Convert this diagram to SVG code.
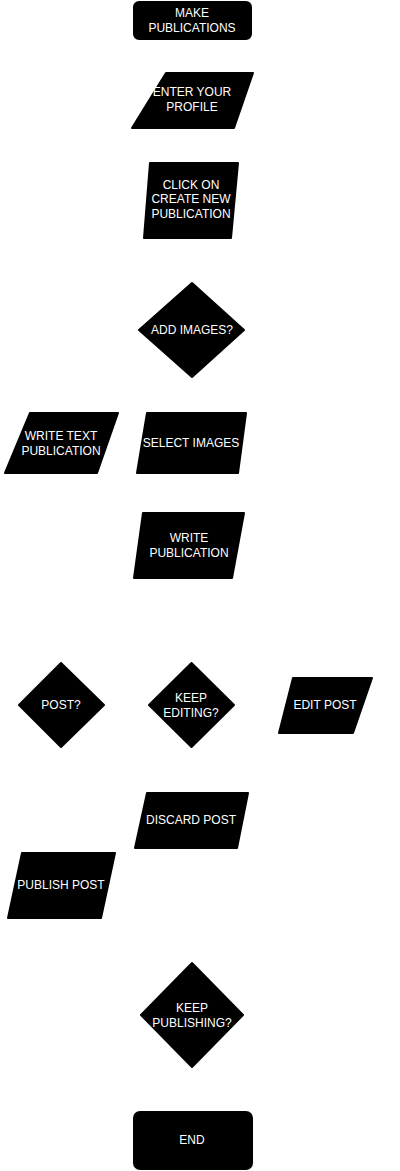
<svg xmlns="http://www.w3.org/2000/svg" width="400" height="1171" viewBox="0 0 400 1171">
<style>
.s{fill:#000;stroke:#000;stroke-width:2;stroke-linejoin:round}
.t{fill:#fff;font-family:"Liberation Sans",Arial,sans-serif;font-size:12px;text-anchor:middle}
</style>
<rect width="400" height="1171" fill="#fff"/>
<g id="connectors"></g>
<g id="make"><rect class="s" x="134" y="2" width="117" height="37" rx="5"/><text class="t" x="192" y="17">MAKE</text><text class="t" x="192" y="32">PUBLICATIONS</text></g>
<g id="profile"><polygon class="s" points="166,73 253,73 234,128 132,128"/><text class="t" x="192" y="96">ENTER YOUR</text><text class="t" x="192" y="111">PROFILE</text></g>
<g id="click"><polygon class="s" points="150,163 238,163 231,238 144,238"/><text class="t" x="191" y="189">CLICK ON</text><text class="t" x="191" y="203">CREATE NEW</text><text class="t" x="191" y="218">PUBLICATION</text></g>
<g id="addimages"><polygon class="s" points="192,283 244,330 192,377 139,330"/><text class="t" x="192" y="334">ADD IMAGES?</text></g>
<g id="writetext"><polygon class="s" points="30,413 118,413 97,473 5,473"/><text class="t" x="61" y="440">WRITE TEXT</text><text class="t" x="61" y="455">PUBLICATION</text></g>
<g id="select"><polygon class="s" points="147,413 246,413 238,473 137,473"/><text class="t" x="191" y="447">SELECT IMAGES</text></g>
<g id="write"><polygon class="s" points="143,513 244,513 232,578 134,578"/><text class="t" x="189" y="542">WRITE</text><text class="t" x="189" y="557">PUBLICATION</text></g>
<g id="post"><polygon class="s" points="61,663 104,705 61,747 19,705"/><text class="t" x="61" y="709">POST?</text></g>
<g id="keepediting"><polygon class="s" points="191.5,663 234,705 191.5,747 149,705"/><text class="t" x="191" y="702">KEEP</text><text class="t" x="191" y="717">EDITING?</text></g>
<g id="editpost"><polygon class="s" points="293,678 372,678 353,733 279,733"/><text class="t" x="325" y="709">EDIT POST</text></g>
<g id="discard"><polygon class="s" points="147,793 248,793 237,848 135,848"/><text class="t" x="191" y="824">DISCARD POST</text></g>
<g id="publish"><polygon class="s" points="22,853 115,853 101,918 8,918"/><text class="t" x="61" y="889">PUBLISH POST</text></g>
<g id="keeppublishing"><polygon class="s" points="192,963 243,1015 192,1067 141,1015"/><text class="t" x="192" y="1012">KEEP</text><text class="t" x="192" y="1027">PUBLISHING?</text></g>
<g id="end"><rect class="s" x="134" y="1112" width="118" height="57" rx="6"/><text class="t" x="192" y="1144">END</text></g>
</svg>
